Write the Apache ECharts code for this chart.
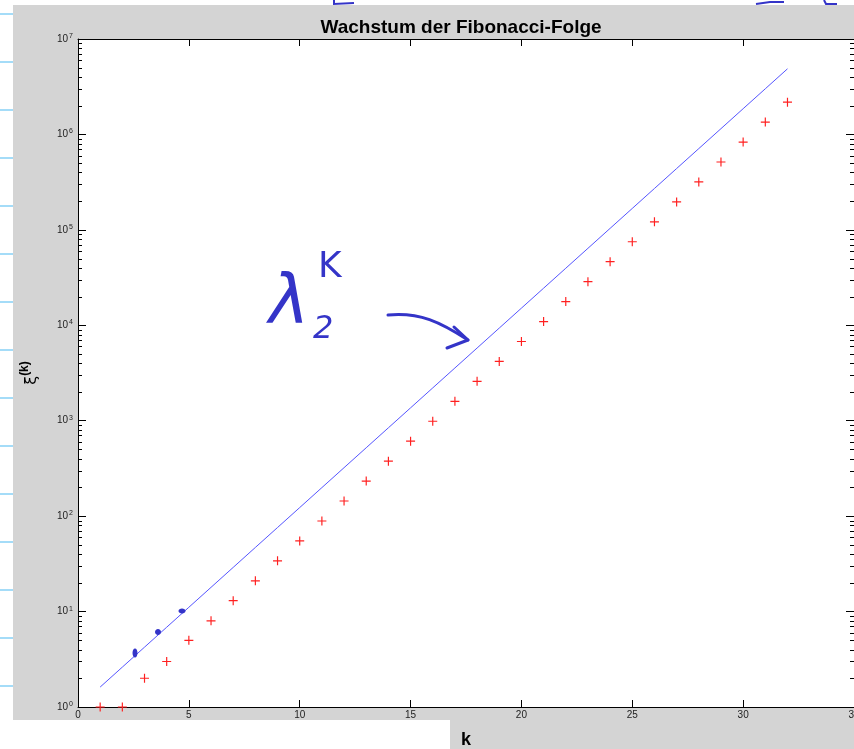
<!DOCTYPE html>
<html>
<head>
<meta charset="utf-8">
<script src="https://cdn.jsdelivr.net/npm/echarts@6/dist/echarts.min.js"></script>
<style>html,body{margin:0;padding:0;background:#fff;}#c{width:854px;height:749px;}</style>
</head>
<body>
<div id="c"></div>
<script>
// k values
var kValues = [1,2,3,4,5,6,7,8,9,10,11,12,13,14,15,16,17,18,19,20,21,22,23,24,25,26,27,28,29,30,31,32];
// Fibonacci numbers xi^(k) (red + markers)
var fibValues = [1,1,2,3,5,8,13,21,34,55,89,144,233,377,610,987,1597,2584,4181,6765,10946,17711,28657,46368,75025,121393,196418,317811,514229,832040,1346269,2178309];
// lambda^k line (blue)
var lambdaValues = [1.618,2.618,4.236,6.854,11.09,17.94,29.03,46.98,76.01,123.0,199.0,322.0,521.0,843.0,1364,2207,3571,5778,9349,15127,24476,39603,64079,103682,167761,271443,439204,710647,1149851,1860498,3010349,4870847];
// axis ticks
var xTicks = [0,5,10,15,20,25,30,35];
var yDecades = [0,1,2,3,4,5,6,7];
var minorMultipliers = [2,3,4,5,6,7,8,9];

var minorTickValues = [];
for (var d = 0; d < yDecades.length - 1; d++) {
  for (var m = 0; m < minorMultipliers.length; m++) {
    minorTickValues.push([0, minorMultipliers[m] * Math.pow(10, yDecades[d])]);
  }
}

var chart = echarts.init(document.getElementById('c'), null, {renderer: 'canvas'});
var INK = '#3434c8';
var FONT = 'Liberation Sans';

var graphics = [
  // white page areas around grey figure
  {type: 'rect', shape: {x: 0, y: 0, width: 854, height: 5}, style: {fill: '#fff'}, silent: true},
  {type: 'rect', shape: {x: 0, y: 0, width: 13, height: 749}, style: {fill: '#fff'}, silent: true},
  {type: 'rect', shape: {x: 0, y: 720, width: 450, height: 29}, style: {fill: '#fff'}, silent: true}
];
// notebook lines at left
for (var i = 0; i < 15; i++) {
  var yy = 14 + i * 48;
  graphics.push({type: 'line', shape: {x1: 0, y1: yy, x2: 13, y2: yy}, style: {stroke: '#86d0f6', lineWidth: 1.5}, silent: true});
}
// handwriting annotation: lambda_2^k with arrow
graphics.push(
  {type: 'text', x: 269, y: 271, style: {text: 'λ', font: 'italic 68px "DejaVu Sans"', fill: INK}, z: 50},
  {type: 'text', x: 313, y: 314, style: {text: '2', font: 'italic 32px "DejaVu Sans"', fill: INK}, z: 50},
  {type: 'text', x: 318, y: 250, style: {text: 'K', font: '36px "DejaVu Sans"', fill: INK}, z: 50},
  {type: 'bezierCurve', shape: {x1: 388, y1: 315, x2: 468, y2: 340, cpx1: 420, cpy1: 312, cpx2: 440, cpy2: 322}, style: {stroke: INK, lineWidth: 3, fill: null, lineCap: 'round'}, z: 50},
  {type: 'polyline', shape: {points: [[454, 327], [468, 340], [447, 348]]}, style: {stroke: INK, lineWidth: 3, fill: null, lineCap: 'round', lineJoin: 'round'}, z: 50},
  // ink blobs on the line
  {type: 'ellipse', shape: {cx: 135, cy: 653, rx: 2.5, ry: 4.5}, style: {fill: INK}, z: 50},
  {type: 'ellipse', shape: {cx: 158, cy: 632, rx: 3, ry: 3}, style: {fill: INK}, z: 50},
  {type: 'ellipse', shape: {cx: 182, cy: 611, rx: 3.5, ry: 2.5}, style: {fill: INK}, z: 50},
  // ink scraps at top
  {type: 'polyline', shape: {points: [[334, 0], [334, 4], [354, 3]]}, style: {stroke: INK, lineWidth: 2, fill: null}, z: 50},
  {type: 'polyline', shape: {points: [[756, 4], [770, 2], [784, 2]]}, style: {stroke: INK, lineWidth: 2, fill: null}, z: 50},
  {type: 'polyline', shape: {points: [[824, 0], [826, 4], [837, 4]]}, style: {stroke: INK, lineWidth: 2, fill: null}, z: 50}
);

var axisLineStyle = {color: '#000', width: 1};

var option = {
  animation: false,
  backgroundColor: '#d4d4d4',
  title: {
    text: 'Wachstum der Fibonacci-Folge',
    left: 456,
    textAlign: 'center',
    top: 13,
    textStyle: {fontFamily: FONT, fontWeight: 'bold', fontSize: 19, color: '#000'}
  },
  grid: {left: 78, right: 0, top: 39, bottom: 42, show: true, backgroundColor: '#fff', borderWidth: 0, containLabel: false, outerBoundsMode: 'none'},
  xAxis: [
    {
      type: 'value', min: 0, max: 35, interval: 5, position: 'bottom',
      name: 'k', nameLocation: 'middle', nameGap: 24,
      nameTextStyle: {fontFamily: FONT, fontWeight: 'bold', fontSize: 18, color: '#000'},
      axisLine: {show: true, onZero: false, lineStyle: axisLineStyle},
      axisTick: {show: true, inside: true, length: 7, lineStyle: {color: '#000'}},
      axisLabel: {show: true, margin: 3, fontFamily: FONT, fontSize: 10, color: '#222', showMaxLabel: true, showMinLabel: true, hideOverlap: false},
      splitLine: {show: false}
    },
    {
      type: 'value', min: 0, max: 35, interval: 5, position: 'top',
      axisLine: {show: true, onZero: false, lineStyle: axisLineStyle},
      axisTick: {show: true, inside: true, length: 7, lineStyle: {color: '#000'}},
      axisLabel: {show: false},
      splitLine: {show: false}
    }
  ],
  yAxis: [
    {
      type: 'log', logBase: 10, min: 1, max: 1e7, interval: 1, position: 'left',
      name: '{x|ξ}{s|(k)}', nameLocation: 'middle', nameGap: 38, nameRotate: 90,
      nameTextStyle: {
        rich: {
          x: {fontFamily: 'DejaVu Sans', fontSize: 16, color: '#000', verticalAlign: 'bottom'},
          s: {fontFamily: FONT, fontSize: 12, fontWeight: 'bold', color: '#000', padding: [0, 0, 9, 0], verticalAlign: 'bottom'}
        }
      },
      axisLine: {show: true, onZero: false, lineStyle: axisLineStyle},
      axisTick: {show: true, inside: true, length: 8, lineStyle: {color: '#000'}},
      axisLabel: {
        show: true, margin: 5,
        formatter: function (v) {
          var e = Math.round(Math.log(v) / Math.LN10);
          return '{b|10}{e|' + e + '}';
        },
        rich: {
          b: {fontFamily: FONT, fontSize: 10, color: '#222'},
          e: {fontFamily: FONT, fontSize: 7, color: '#222', padding: [0, 0, 6, 1]}
        }
      },
      splitLine: {show: false}
    },
    {
      type: 'log', logBase: 10, min: 1, max: 1e7, interval: 1, position: 'right',
      axisLine: {show: true, onZero: false, lineStyle: axisLineStyle},
      axisTick: {show: true, inside: true, length: 8, lineStyle: {color: '#000'}},
      axisLabel: {show: false},
      splitLine: {show: false}
    }
  ],
  series: [
    {
      type: 'custom',
      name: 'minorTicks',
      silent: true,
      clip: false,
      xAxisIndex: 0, yAxisIndex: 0,
      data: minorTickValues,
      renderItem: function (params, api) {
        var p = api.coord([api.value(0), api.value(1)]);
        var cs = params.coordSys;
        var y = Math.round(p[1]) + 0.5;
        return {
          type: 'group',
          children: [
            {type: 'line', shape: {x1: cs.x, y1: y, x2: cs.x + 4, y2: y}, style: {stroke: '#000', lineWidth: 1}},
            {type: 'line', shape: {x1: cs.x + cs.width - 4, y1: y, x2: cs.x + cs.width, y2: y}, style: {stroke: '#000', lineWidth: 1}}
          ]
        };
      }
    },
    {
      type: 'line',
      name: 'lambda^k',
      data: kValues.map(function (k, i) { return [k, lambdaValues[i]]; }),
      showSymbol: false,
      symbol: 'none',
      lineStyle: {color: '#5555ff', width: 1},
      emphasis: {disabled: true},
      z: 3
    },
    {
      type: 'scatter',
      name: 'xi(k)',
      data: kValues.map(function (k, i) { return [k, fibValues[i]]; }),
      symbol: 'path://M4,0h1.2v4h4v1.2h-4v4h-1.2v-4h-4v-1.2h4z',
      symbolSize: 9,
      itemStyle: {color: '#ff2020', opacity: 1},
      emphasis: {disabled: true},
      z: 4
    }
  ],
  graphic: graphics
};
chart.setOption(option);
</script>
</body>
</html>
